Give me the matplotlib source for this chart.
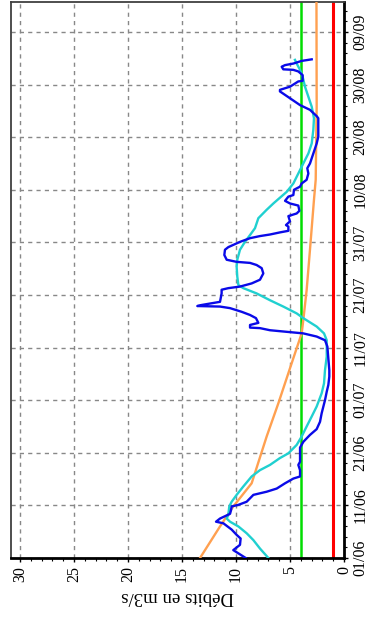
import matplotlib
matplotlib.use("Agg")
import matplotlib.pyplot as plt
from matplotlib.ticker import MultipleLocator


# ======================================================================
# Data (days counted from 01/06, flows in m3/s)
# ======================================================================

date_ticks = [0, 10, 20, 30, 40, 50, 60, 70, 80, 90, 100]
date_labels = ["01/06", "11/06", "21/06", "01/07", "11/07", "21/07",
               "31/07", "10/08", "20/08", "30/08", "09/09"]
flow_ticks = [0, 5, 10, 15, 20, 25, 30]

blue_days = [0.0, 1.5, 2.5, 3.7, 4.4, 5.4, 6.6, 6.9, 7.5, 8.4, 9.1, 9.8, 10.1,
             10.7, 12.0, 12.3, 12.6, 13.2, 14.2, 15.1, 15.5, 16.7, 17.7, 18.3,
             21.0, 22.1, 23.4, 24.5, 25.9, 27.5, 28.8, 30.0, 31.6, 32.9, 34.5,
             35.7, 40.2, 41.4, 42.1, 42.7, 43.0, 43.3, 43.7, 43.8, 44.3, 44.7,
             45.6, 46.2, 46.8, 47.5, 47.8, 47.9, 48.1, 48.7, 50.3, 51.0, 51.3,
             51.6, 52.2, 52.9, 54.1, 55.1, 55.7, 56.1, 56.3, 56.7, 57.6, 58.6,
             59.1, 60.1, 60.8, 61.2, 61.5, 61.9, 62.2, 63.0, 63.3, 64.0, 65.0,
             65.5, 66.0, 67.0, 67.4, 67.9, 68.7, 69.0, 70.0, 70.6, 71.2, 71.9,
             73.1, 74.1, 75.0, 76.9, 78.8, 80.1, 83.6, 84.0, 85.2, 86.1, 87.4,
             88.7, 89.0, 89.6, 90.6, 90.7, 91.8, 92.5, 92.8, 92.9, 93.4, 93.7,
             94.0, 94.5, 94.8]
blue_flow = [9.1, 10.25, 9.63, 9.57, 9.94, 10.40, 11.17, 11.85, 11.48, 10.55,
             10.46, 10.40, 9.78, 9.01, 8.39, 7.78, 7.16, 6.23, 5.46, 4.69, 4.07,
             4.07, 4.23, 4.07, 4.07, 3.76, 3.15, 2.53, 2.22, 2.07, 1.91, 1.76,
             1.60, 1.45, 1.36, 1.36, 1.54, 1.76, 2.53, 3.77, 5.31, 6.85, 7.78,
             8.70, 8.70, 7.93, 8.15, 8.70, 9.47, 10.55, 11.48, 13.58, 13.18,
             11.48, 11.33, 11.33, 10.71, 9.63, 8.55, 7.78, 7.47, 7.62, 8.09,
             8.70, 9.94, 10.86, 11.08, 11.02, 10.71, 9.63, 8.70, 7.78, 6.85,
             5.93, 5.15, 5.15, 5.37, 5.00, 5.15, 4.38, 4.13, 4.23, 5.00, 5.46,
             5.15, 4.69, 4.63, 4.07, 3.92, 3.46, 3.30, 3.40, 3.15, 2.84, 2.53,
             2.38, 2.38, 2.53, 3.15, 4.07, 5.00, 5.93, 5.93, 5.00, 4.23, 3.83,
             3.83, 4.23, 4.69, 5.62, 5.77, 5.46, 4.69, 3.92, 2.99]

cyan_days = [0.0, 1.8, 3.4, 4.7, 6.0, 6.9, 7.5, 8.2, 9.8, 10.7, 12.0, 13.6,
             15.5, 16.7, 17.7, 19.0, 19.9, 21.5, 23.1, 25.0, 26.9, 28.8, 31.3,
             33.2, 35.7, 38.3, 41.4, 42.7, 44.0, 45.6, 46.5, 47.8, 49.0, 50.3,
             51.3, 51.9, 53.5, 55.4, 56.7, 58.6, 60.1, 61.4, 62.7, 64.6, 66.2,
             67.4, 68.1, 69.6, 71.2, 73.1, 75.0, 76.9, 78.8, 81.4, 83.6, 85.8,
             87.7, 89.6, 91.5, 92.8, 94.0, 94.7]
cyan_flow = [7.0, 7.78, 8.39, 9.01, 9.78, 10.55, 10.86, 10.71, 10.62, 10.40,
             9.94, 9.32, 8.55, 7.78, 6.85, 5.93, 5.15, 4.38, 3.92, 3.46, 2.99,
             2.53, 2.07, 1.85, 1.76, 1.60, 1.60, 1.85, 2.53, 3.77, 4.38, 5.62,
             6.85, 8.09, 9.32, 9.78, 9.88, 9.94, 9.88, 9.63, 9.17, 8.70, 8.24,
             7.93, 7.16, 6.54, 6.15, 5.31, 4.69, 4.23, 3.77, 3.30, 2.99, 2.84,
             2.78, 2.99, 3.30, 3.61, 3.83, 4.07, 4.38, 4.54]

orange_days = [0.0, 6.0, 9.8, 14.2, 23.1, 29.4, 35.7, 38.9, 42.7, 45.2, 50.9,
               58.6, 68.1, 71.9, 85.8, 106.0]
orange_flow = [13.33, 11.48, 10.25, 8.55, 7.16, 6.08, 5.06, 4.54, 3.92, 3.77,
               3.46, 3.15, 2.78, 2.62, 2.53, 2.55]

green_level = 4.0
red_level = 1.05

day_range = (0, 105.7)
flow_range = (30.83, 0)


# ======================================================================
# Figure (drawn rotated: flow on the horizontal axis, dates upward)
# ======================================================================

def main():
    plt.rcParams["font.family"] = ["Liberation Serif", "DejaVu Serif"]

    fig = plt.figure(figsize=(3.73, 6.23), dpi=100)
    ax = fig.add_axes([11 / 373, 65 / 623, 333 / 373, 556 / 623])

    ax.axvline(red_level, color="#ff0000", lw=2.2, zorder=2)
    ax.axvline(green_level, color="#00dd00", lw=1.8, zorder=2)
    ax.plot(orange_flow, orange_days, color="#ffa050", lw=1.7, zorder=3)
    ax.plot(cyan_flow, cyan_days, color="#20d0d0", lw=1.7, zorder=4)
    ax.plot(blue_flow, blue_days, color="#0a0ae8", lw=1.7, zorder=5)

    ax.set_xlim(*flow_range)
    ax.set_ylim(*day_range)

    # flow axis (bottom)
    ax.set_xticks(flow_ticks)
    ax.set_xticklabels([str(v) for v in flow_ticks], rotation=90, fontsize=11.5)
    ax.xaxis.set_minor_locator(MultipleLocator(1))
    ax.set_xlabel("Débits en m3/s", rotation=180, fontsize=13.5, labelpad=4)

    # date axis (right)
    ax.yaxis.tick_right()
    ax.set_yticks(date_ticks)
    ax.set_yticklabels(date_labels, rotation=90, va="center", fontsize=11.5)
    ax.yaxis.set_minor_locator(MultipleLocator(2))

    ax.tick_params(which="major", direction="out", length=3, width=1, pad=3)
    ax.tick_params(which="minor", direction="out", length=1.8, width=0.8)

    ax.grid(True, which="major", color="#888888", lw=1.0, linestyle=(0, (3, 3)))

    for side in ("bottom", "right"):
        ax.spines[side].set_linewidth(2.0)
        ax.spines[side].set_color("black")
    for side in ("top", "left"):
        ax.spines[side].set_linewidth(1.3)
        ax.spines[side].set_color("#404040")

    fig.savefig("out.png", dpi=100)


if __name__ == "__main__":
    main()
